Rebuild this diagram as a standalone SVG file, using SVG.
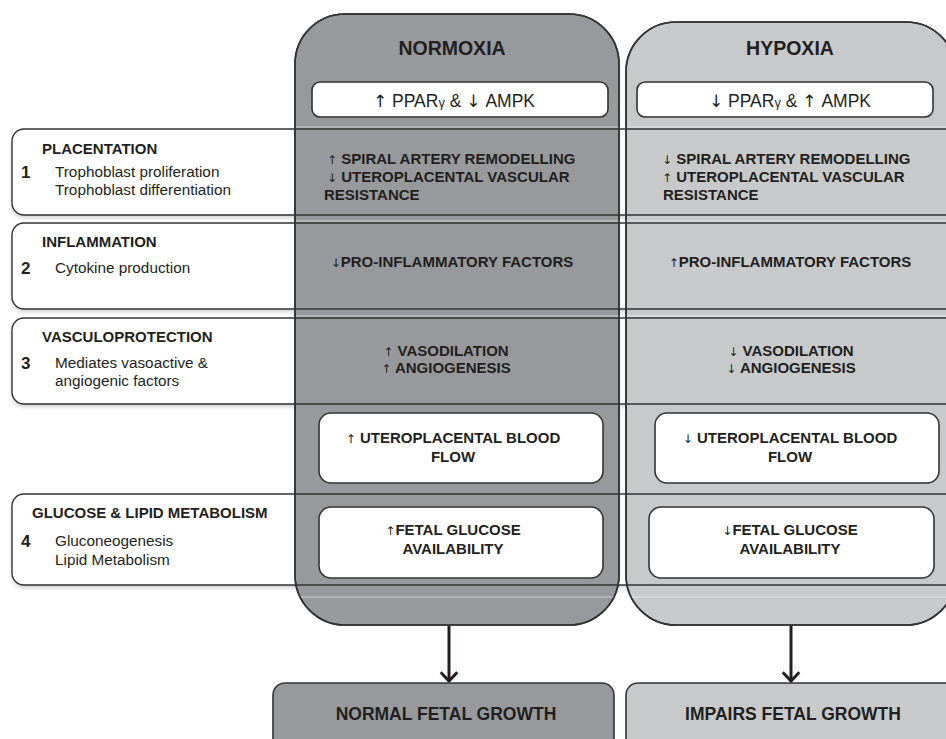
<svg xmlns="http://www.w3.org/2000/svg" width="946" height="739" viewBox="0 0 946 739">
<defs>
<style>
text{font-family:"Liberation Sans",Arial,sans-serif;fill:#231f20}
.b{font-weight:bold;font-size:15px}
.r{font-size:15.3px}
.num{font-weight:bold;font-size:17px}
.title{font-weight:bold;font-size:19.5px}
.ppar{font-size:17.5px}
.out{font-weight:bold;font-size:17.5px}
.ar{font-family:"DejaVu Sans",sans-serif;font-weight:normal;font-size:12px}
.pa{font-family:"DejaVu Sans",sans-serif;font-weight:normal;font-size:17px}
.rowbg{fill:#fff;stroke:none}
.rowln{fill:none;stroke:#333;stroke-width:1.4}
.colN{fill:#98999c;stroke:#333;stroke-width:1.6}
.colH{fill:#c8c9cb;stroke:#333;stroke-width:1.6}
.wbox{fill:#fff;stroke:#333;stroke-width:1.6}
.hl{stroke:#fff;stroke-opacity:0.35;stroke-width:1.5}
.conn{stroke:#231f20;stroke-width:3;fill:none}
</style>
<filter id="sh" x="-5%" y="-10%" width="110%" height="130%">
<feDropShadow dx="0" dy="3" stdDeviation="2" flood-color="#000" flood-opacity="0.18"/>
</filter>
<marker id="chev" viewBox="0 0 20 20" refX="17" refY="10" markerWidth="6.5" markerHeight="6.5" markerUnits="strokeWidth" orient="auto">
<path d="M8,1.5 L17,10 L8,18.5" fill="none" stroke="#231f20" stroke-width="3"/>
</marker>
</defs>
<rect width="946" height="739" fill="#fff"/>

<g id="row-backgrounds" filter="url(#sh)">
<rect class="rowbg" x="12" y="129" width="960" height="86" rx="12"/>
<rect class="rowbg" x="12" y="223" width="960" height="86" rx="12"/>
<rect class="rowbg" x="12" y="318" width="960" height="86" rx="12"/>
<rect class="rowbg" x="12" y="494" width="960" height="91" rx="12"/>
</g>

<g id="col-normoxia">
<rect class="colN" x="295" y="14" width="324" height="611" rx="50"/>
</g>
<g id="col-hypoxia">
<rect class="colH" x="626" y="22" width="330" height="603" rx="50"/>
</g>

<g id="highlights">
<line class="hl" x1="296" y1="127" x2="946" y2="127"/>
<line class="hl" x1="296" y1="221" x2="946" y2="221"/>
<line class="hl" x1="296" y1="316" x2="946" y2="316"/>
<line class="hl" x1="296" y1="597" x2="946" y2="597"/>
</g>

<g id="row-outlines">
<rect class="rowln" x="12" y="129" width="960" height="86" rx="12"/>
<rect class="rowln" x="12" y="223" width="960" height="86" rx="12"/>
<rect class="rowln" x="12" y="318" width="960" height="86" rx="12"/>
<rect class="rowln" x="12" y="494" width="960" height="91" rx="12"/>
</g>

<g id="col-outlines" fill="none" stroke="#333" stroke-width="1.6">
<rect x="295" y="14" width="324" height="611" rx="50"/>
<rect x="626" y="22" width="330" height="603" rx="50"/>
</g>

<g id="row1-label">
<text class="b" x="42" y="154">PLACENTATION</text>
<text class="num" x="21" y="178">1</text>
<text class="r" x="55" y="177">Trophoblast proliferation</text>
<text class="r" x="55" y="195">Trophoblast differentiation</text>
</g>
<g id="row2-label">
<text class="b" x="42" y="247">INFLAMMATION</text>
<text class="num" x="21" y="274">2</text>
<text class="r" x="55" y="273">Cytokine production</text>
</g>
<g id="row3-label">
<text class="b" x="42" y="342">VASCULOPROTECTION</text>
<text class="num" x="21" y="369">3</text>
<text class="r" x="55" y="368">Mediates vasoactive &amp;</text>
<text class="r" x="55" y="386">angiogenic factors</text>
</g>
<g id="row4-label">
<text class="b" x="32" y="518">GLUCOSE &amp; LIPID METABOLISM</text>
<text class="num" x="21" y="547">4</text>
<text class="r" x="55" y="546">Gluconeogenesis</text>
<text class="r" x="55" y="565">Lipid Metabolism</text>
</g>

<g id="normoxia-title"><text class="title" x="452" y="55" text-anchor="middle">NORMOXIA</text></g>
<g id="hypoxia-title"><text class="title" x="790" y="55" text-anchor="middle">HYPOXIA</text></g>

<g id="normoxia-ppar">
<rect class="wbox" x="312" y="82" width="296" height="35" rx="8"/>
<text class="ppar" x="454" y="107" text-anchor="middle"><tspan class="pa">↑</tspan> PPAR<tspan font-size="13">γ</tspan> &amp; <tspan class="pa">↓</tspan> AMPK</text>
</g>
<g id="hypoxia-ppar">
<rect class="wbox" x="637" y="82" width="296" height="35" rx="8"/>
<text class="ppar" x="790" y="107" text-anchor="middle"><tspan class="pa">↓</tspan> PPAR<tspan font-size="13">γ</tspan> &amp; <tspan class="pa">↑</tspan> AMPK</text>
</g>

<g id="normoxia-placentation">
<text class="b" x="327" y="164"><tspan class="ar">↑</tspan> SPIRAL ARTERY REMODELLING</text>
<text class="b" x="327" y="182"><tspan class="ar">↓</tspan> UTEROPLACENTAL VASCULAR</text>
<text class="b" x="324" y="200">RESISTANCE</text>
</g>
<g id="hypoxia-placentation">
<text class="b" x="662" y="164"><tspan class="ar">↓</tspan> SPIRAL ARTERY REMODELLING</text>
<text class="b" x="662" y="182"><tspan class="ar">↑</tspan> UTEROPLACENTAL VASCULAR</text>
<text class="b" x="663" y="200">RESISTANCE</text>
</g>

<g id="normoxia-inflammation">
<text class="b" x="452" y="267" text-anchor="middle"><tspan class="ar">↓</tspan>PRO-INFLAMMATORY FACTORS</text>
</g>
<g id="hypoxia-inflammation">
<text class="b" x="790" y="267" text-anchor="middle"><tspan class="ar">↑</tspan>PRO-INFLAMMATORY FACTORS</text>
</g>

<g id="normoxia-vaso">
<text class="b" x="446" y="356" text-anchor="middle"><tspan class="ar">↑</tspan> VASODILATION</text>
<text class="b" x="446" y="373" text-anchor="middle"><tspan class="ar">↑</tspan> ANGIOGENESIS</text>
</g>
<g id="hypoxia-vaso">
<text class="b" x="791" y="356" text-anchor="middle"><tspan class="ar">↓</tspan> VASODILATION</text>
<text class="b" x="791" y="373" text-anchor="middle"><tspan class="ar">↓</tspan> ANGIOGENESIS</text>
</g>

<g id="normoxia-flow">
<rect class="wbox" x="319" y="413" width="284" height="70" rx="12"/>
<text class="b" x="453" y="443" text-anchor="middle"><tspan class="ar">↑</tspan> UTEROPLACENTAL BLOOD</text>
<text class="b" x="453" y="462" text-anchor="middle">FLOW</text>
</g>
<g id="hypoxia-flow">
<rect class="wbox" x="655" y="413" width="284" height="70" rx="12"/>
<text class="b" x="790" y="443" text-anchor="middle"><tspan class="ar">↓</tspan> UTEROPLACENTAL BLOOD</text>
<text class="b" x="790" y="462" text-anchor="middle">FLOW</text>
</g>

<g id="normoxia-glucose">
<rect class="wbox" x="319" y="507" width="284" height="71" rx="12"/>
<text class="b" x="453" y="535" text-anchor="middle"><tspan class="ar">↑</tspan>FETAL GLUCOSE</text>
<text class="b" x="453" y="554" text-anchor="middle">AVAILABILITY</text>
</g>
<g id="hypoxia-glucose">
<rect class="wbox" x="649" y="507" width="285" height="71" rx="12"/>
<text class="b" x="790" y="535" text-anchor="middle"><tspan class="ar">↓</tspan>FETAL GLUCOSE</text>
<text class="b" x="790" y="554" text-anchor="middle">AVAILABILITY</text>
</g>

<g id="connectors">
<line class="conn" x1="449" y1="626" x2="449" y2="681" marker-end="url(#chev)"/>
<line class="conn" x1="791" y1="626" x2="791" y2="681" marker-end="url(#chev)"/>
</g>

<g id="outcome-normal">
<rect class="colN" x="273" y="683" width="341" height="75" rx="12"/>
<text class="out" x="446" y="720" text-anchor="middle">NORMAL FETAL GROWTH</text>
</g>
<g id="outcome-impaired">
<rect class="colH" x="626" y="683" width="340" height="75" rx="12"/>
<text class="out" x="793" y="720" text-anchor="middle">IMPAIRS FETAL GROWTH</text>
</g>
</svg>
